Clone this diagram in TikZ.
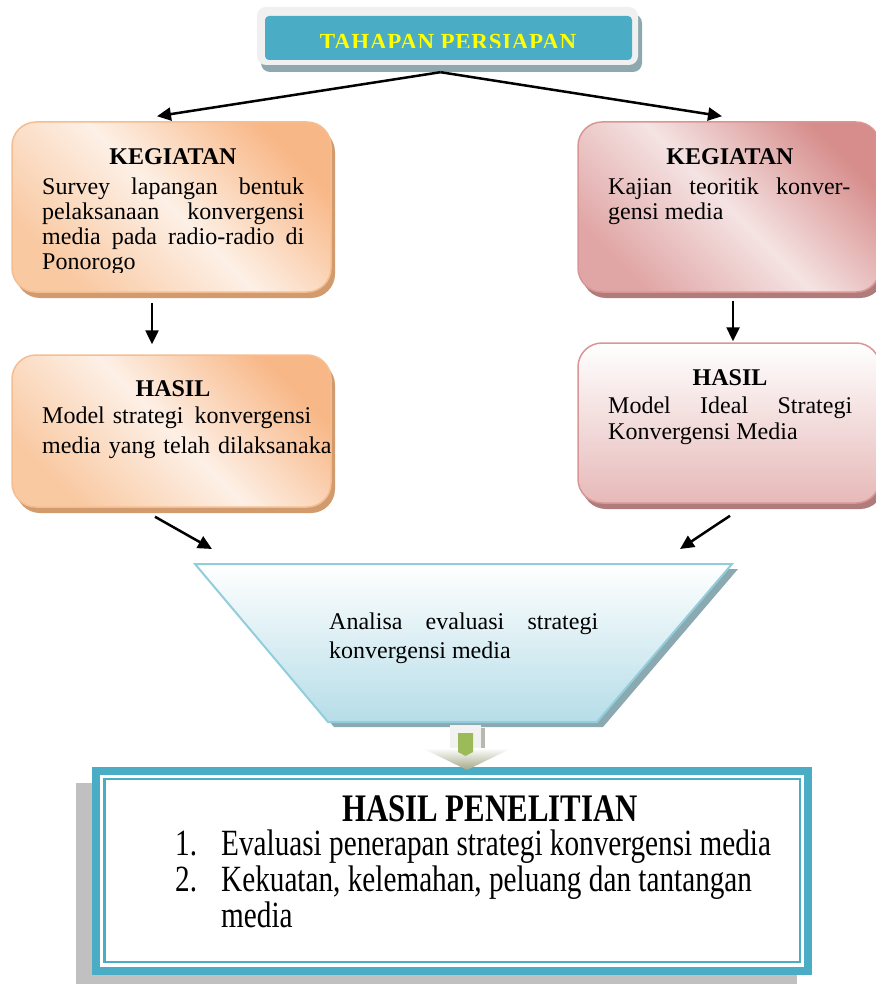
\documentclass[tikz,border=0pt]{standalone}
\usepackage{fontspec}
\setmainfont{Liberation Serif}
\newfontfamily\condfont[FakeStretch=0.79]{Liberation Serif}
\newfontfamily\spacedfont[LetterSpace=3]{Liberation Serif}
\usetikzlibrary{arrows.meta,shadows,calc}
\definecolor{orD}{HTML}{F8B786}
\definecolor{orL}{HTML}{FDF0E6}
\definecolor{orM}{HTML}{F9C9A2}
\definecolor{orB}{HTML}{F5BE92}
\definecolor{orS}{HTML}{D19B6E}
\definecolor{pkD}{HTML}{D68D8B}
\definecolor{pkL}{HTML}{F5E3E3}
\definecolor{pkM}{HTML}{E0A6A5}
\definecolor{pkB}{HTML}{D99694}
\definecolor{pkS}{HTML}{B07C7B}
\definecolor{pkH}{HTML}{E6B9B8}
\definecolor{bl}{HTML}{4BACC6}
\definecolor{fnB}{HTML}{92CDDC}
\definecolor{fnD}{HTML}{B6DDE8}
\definecolor{fnS}{HTML}{8AA9B0}
\definecolor{topG}{HTML}{F0F0F0}
\definecolor{topS}{HTML}{8DA9AF}
\definecolor{gr}{HTML}{9BBB59}
\definecolor{arD}{HTML}{A3A785}
\definecolor{arG}{HTML}{F2F2F2}
\definecolor{shG}{HTML}{C0C0C0}
\definecolor{ttY}{HTML}{FFFF00}
\pgfdeclarehorizontalshading{orshade}{100bp}{color(0bp)=(orD); color(25bp)=(orD); color(50bp)=(orL); color(75bp)=(orM); color(100bp)=(orM)}
\pgfdeclarehorizontalshading{pkshade}{100bp}{color(0bp)=(pkD); color(25bp)=(pkD); color(50bp)=(pkL); color(75bp)=(pkM); color(100bp)=(pkM)}
\tikzset{
  arr/.style={line width=2.5pt, -{Triangle[length=14pt,width=13pt]}},
  obox/.style={rounded corners=24pt, draw=orB, line width=1.5pt, shading=orshade, shading angle=225, inner sep=0,
    drop shadow={shadow xshift=4pt, shadow yshift=-6pt, fill=orS, opacity=1}},
  pbox/.style={rounded corners=24pt, draw=pkB, line width=1.5pt, shading=pkshade, shading angle=225, inner sep=0,
    drop shadow={shadow xshift=4pt, shadow yshift=-6pt, fill=pkS, opacity=1}},
  hbox/.style={rounded corners=24pt, draw=pkB, line width=1.5pt, top color=white, bottom color=pkH, inner sep=0,
    drop shadow={shadow xshift=4pt, shadow yshift=-6pt, fill=pkS, opacity=1}},
  topouter/.style={rounded corners=9pt, fill=topG, inner sep=0,
    drop shadow={shadow xshift=4pt, shadow yshift=-7pt, fill=topS, opacity=1}},
  topinner/.style={rounded corners=4pt, fill=bl, inner sep=0},
  toptext/.style={inner sep=0, anchor=base, text=ttY, font=\spacedfont\fontsize{23}{23}\selectfont\bfseries},
  head/.style={inner sep=0, anchor=base, font=\fontsize{24}{25}\selectfont\bfseries},
  body/.style={inner sep=0, anchor=base west, align=justify, font=\fontsize{24}{25}\selectfont},
  listtxt/.style={inner sep=0, anchor=base west, font=\condfont\fontsize{37}{37}\selectfont},
}
\begin{document}
\begin{tikzpicture}[x=1pt,y=-1pt]
\useasboundingbox (0,0) rectangle (875,984);
\fill[white] (0,0) rectangle (875,984);

% top box
\node[topouter, minimum width=381pt, minimum height=58pt] (top) at (447.5,36) {};
\node[topinner, minimum width=367pt, minimum height=44pt] (topin) at (448.5,38) {};
\begin{scope}
  \clip (265,16) rectangle (632,47.5);
  \node[toptext] (toptxt) at (448,50) {TAHAPAN PERSIAPAN};
\end{scope}

% boxes
\node[obox, minimum width=319pt, minimum height=170pt] (kl) at (171.5,207) {};
\node[obox, minimum width=319pt, minimum height=152pt] (hl) at (171.5,431) {};
\node[pbox, minimum width=302pt, minimum height=170pt] (kr) at (729,207) {};
\node[hbox, minimum width=302pt, minimum height=160pt] (hr) at (729,423) {};

% texts in boxes
\node[head] (klh) at (173,165) {KEGIATAN};
\begin{scope}
  \clip (20,130) rectangle (330,272);
  \node[body, text width=262pt] (klt) at (42,195) {Survey lapangan bentuk\linebreak pelaksanaan konvergensi\linebreak media pada radio-radio di\linebreak Ponorogo};
\end{scope}
\node[head] (hlh) at (173,396) {HASIL};
\node[body, align=left, text width=295pt, font=\fontsize{24}{30}\selectfont] (hlt) at (42,423) {Model strategi\hspace{3pt} konvergensi\\media yang telah dilaksanaka};
\node[head] (krh) at (730,165) {KEGIATAN};
\node[body, text width=242pt] (krt) at (608,195) {Kajian teoritik konver-\linebreak gensi media};
\node[head] (hrh) at (730,385) {HASIL};
\node[body, text width=244pt, font=\fontsize{24}{26}\selectfont] (hrt) at (608,413) {Model Ideal Strategi\linebreak Konvergensi Media};

% funnel
\fill[fnS] (201,569) -- (738,569) -- (603,727) -- (334,727) -- cycle;
\shade[top color=white, bottom color=fnD, draw=fnB, line width=2pt] (195,564) -- (732,564) -- (597,722) -- (328,722) -- cycle;
\coordinate (fn) at (463.5,564);
\node[body, text width=269pt, font=\fontsize{24}{29}\selectfont] (fnt) at (329,629) {Analisa evaluasi strategi\linebreak konvergensi media};

% arrows
\draw[arr] ($(top.south)+(-7,7)$) -- ($(kl.north)+(-14.5,-5)$);
\draw[arr] ($(top.south)+(-7,7)$) -- ($(kr.north)+(-7,-5)$);
\draw[arr] ($(kl.south)+(-19.5,10)$) -- ($(hl.north)+(-19.5,-10)$);
\draw[arr] ($(kr.south)+(4,8)$) -- ($(hr.north)+(4,-1)$);
\draw[arr] ($(hl.south)+(-16.5,9)$) -- ($(fn)+(-251.5,-15)$);
\draw[arr] ($(hr.south)+(1,12)$) -- ($(fn)+(216.5,-15)$);

% bottom result box
\fill[shG] (76,783) rectangle (797,995);
\node[draw=bl, line width=8pt, fill=white, minimum width=712pt, minimum height=200pt, inner sep=0, outer sep=0] (res) at (452,871) {};
\draw[bl, line width=2.5pt] ($(res.north west)+(8.5,8)$) rectangle ($(res.south east)+(-8,-9)$);

% green block arrow
\fill[arG] (450,725) rectangle (481,749);
\fill[shG!70!arD] (481,728) rectangle (485,749);
\shade[top color=white, bottom color=arD] (422,748) -- (512,748) -- (467,770) -- cycle;
\fill[gr] (458,733) -- (473,733) -- (473,752) -- (465.5,756) -- (458,752) -- cycle;

% result texts
\node[inner sep=0, anchor=base, font=\condfont\fontsize{39}{39}\selectfont\bfseries] (rtitle) at (490,821) {HASIL PENELITIAN};
\node[listtxt] (n1) at (175,855) {1.};
\node[listtxt] (l1) at (221,855) {Evaluasi penerapan strategi konvergensi media};
\node[listtxt] (n2) at (175,891) {2.};
\node[listtxt] (l2) at (221,891) {Kekuatan, kelemahan, peluang dan tantangan};
\node[listtxt] (l3) at (221,927) {media};
\end{tikzpicture}
\end{document}
